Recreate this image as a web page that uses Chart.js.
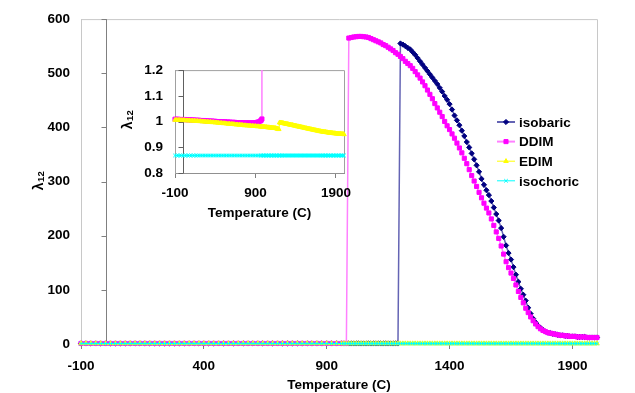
<!DOCTYPE html>
<html>
<head>
<meta charset="utf-8">
<script src="https://cdn.jsdelivr.net/npm/chart.js@4.4.1/dist/chart.umd.min.js"></script>
<style>
  html, body { margin: 0; padding: 0; background: #fff; }
  #wrap { position: relative; width: 635px; height: 393px; }
  #main { position: absolute; left: 0; top: 0; width: 635px; height: 393px; }
  #inset { position: absolute; left: 105px; top: 50px; width: 255px; height: 175px; }
</style>
</head>
<body>
<div id="wrap">
  <canvas id="main" width="635" height="393"></canvas>
  <canvas id="inset" width="255" height="175"></canvas>
</div>
<script>
// temperature grid (C): coarse on the flat part, finer where the curves move
const temps = [
  -100, -80, -60, -40, -20, 0, 20, 40, 60, 80,
  100, 120, 140, 160, 180, 200, 220, 240, 260, 280,
  300, 320, 340, 360, 380, 400, 420, 440, 460, 480,
  500, 520, 540, 560, 580, 600, 620, 640, 660, 680,
  700, 720, 740, 760, 780, 800, 820, 840, 860, 880,
  900, 920, 940, 960,
  970, 980, 990, 1000, 1010, 1020, 1030, 1040, 1050, 1060,
  1070, 1080, 1090, 1100, 1110, 1120, 1130, 1140, 1150, 1160,
  1170, 1180, 1190, 1200, 1210, 1220, 1230, 1240, 1250, 1260,
  1270, 1280, 1290, 1300, 1310, 1320, 1330, 1340, 1350, 1360,
  1370, 1380, 1390, 1400, 1410, 1420, 1430, 1440, 1450, 1460,
  1470, 1480, 1490, 1500, 1510, 1520, 1530, 1540, 1550, 1560,
  1570, 1580, 1590, 1600, 1610, 1620, 1630, 1640, 1650, 1660,
  1670, 1680, 1690, 1700, 1710, 1720, 1730, 1740, 1750, 1760,
  1770, 1780, 1790, 1800, 1810, 1820, 1830, 1840, 1850, 1860,
  1870, 1880, 1890, 1900, 1910, 1920, 1930, 1940, 1950, 1960,
  1970, 1980, 1990, 2000
];

const isobaric = [
  1.008, 1.008, 1.008, 1.007, 1.007, 1.007, 1.007, 1.006, 1.006, 1.006,
  1.005, 1.005, 1.005, 1.004, 1.004, 1.004, 1.003, 1.003, 1.003, 1.002,
  1.002, 1.001, 1.001, 1.001, 1.000, 1.000, 0.999, 0.999, 0.999, 0.998,
  0.998, 0.998, 0.997, 0.997, 0.997, 0.996, 0.996, 0.996, 0.995, 0.995,
  0.995, 0.994, 0.994, 0.994, 0.993, 0.993, 0.993, 0.992, 0.992, 0.992,
  0.991, 0.991, 0.991, 0.990,
  0.990, 0.990, 0.990, 0.989, 0.989, 0.989, 0.989, 0.988, 0.988, 0.988,
  0.988, 0.987, 0.987, 0.987, 0.987, 0.986, 0.986, 0.986, 0.986, 0.985,
  0.985, 0.985, 0.985, 555, 553, 550, 547, 544, 539, 534,
  528, 522, 516, 510, 504, 498, 492, 486, 480, 473,
  466, 458, 451, 443, 433, 422, 413, 404, 394, 384,
  373, 363, 352, 341, 330, 318, 305, 294, 284, 275,
  264, 252, 240, 228, 214, 198, 182, 168, 156, 142,
  128, 115, 102, 91, 80, 67, 56, 47, 40, 34,
  30, 26, 23, 21, 20, 19, 18, 17, 16, 16,
  15, 15, 14, 14, 14, 13, 13, 13, 13, 12,
  12, 12, 12, 12
];

const ddim = [
  1.009, 1.009, 1.009, 1.008, 1.008, 1.008, 1.008, 1.007, 1.007, 1.007,
  1.006, 1.006, 1.006, 1.005, 1.005, 1.005, 1.004, 1.004, 1.004, 1.003,
  1.003, 1.002, 1.002, 1.002, 1.001, 1.001, 1.000, 1.000, 1.000, 0.999,
  0.999, 0.999, 0.998, 0.998, 0.998, 0.997, 0.997, 0.997, 0.996, 0.996,
  0.996, 0.996, 0.995, 0.995, 0.995, 0.995, 0.995, 0.995, 0.995, 0.995,
  0.996, 0.997, 0.999, 1.002,
  1.005, 1.010, 565, 566, 567, 567.5, 568, 568, 567.5, 567,
  566, 564, 562, 560, 558, 556, 553, 551, 548, 545,
  542, 538, 535, 531, 527, 522, 518, 514, 509, 503,
  497, 491, 484, 477, 469, 461, 453, 444, 436, 428,
  420, 411, 403, 396, 388, 380, 371, 362, 353, 343,
  333, 322, 311, 301, 291, 280, 270, 260, 251, 242,
  231, 219, 207, 195, 181, 166, 152, 141, 131, 121,
  109, 97, 86, 76, 66, 58, 50, 43, 37, 32,
  28, 25, 23, 21, 20, 19, 18, 17, 16, 16,
  15, 15, 14, 14, 14, 13, 13, 13, 13, 12,
  12, 12, 12, 12
];

const edim = [
  1.006, 1.006, 1.006, 1.006, 1.005, 1.005, 1.005, 1.004, 1.004, 1.004,
  1.003, 1.003, 1.003, 1.002, 1.002, 1.001, 1.001, 1.000, 1.000, 0.999,
  0.999, 0.998, 0.998, 0.997, 0.997, 0.996, 0.996, 0.995, 0.994, 0.994,
  0.993, 0.993, 0.992, 0.991, 0.991, 0.990, 0.990, 0.989, 0.988, 0.988,
  0.987, 0.987, 0.986, 0.985, 0.985, 0.984, 0.984, 0.983, 0.983, 0.982,
  0.982, 0.981, 0.981, 0.980,
  0.980, 0.980, 0.979, 0.979, 0.979, 0.978, 0.978, 0.978, 0.977, 0.977,
  0.977, 0.976, 0.976, 0.976, 0.975, 0.975, 0.975, 0.974, 0.974, 0.973,
  0.972, 0.971, 0.970, 0.996, 0.995, 0.995, 0.994, 0.994, 0.993, 0.992,
  0.992, 0.991, 0.990, 0.990, 0.989, 0.988, 0.988, 0.987, 0.986, 0.986,
  0.985, 0.984, 0.984, 0.983, 0.982, 0.981, 0.981, 0.980, 0.979, 0.979,
  0.978, 0.977, 0.977, 0.976, 0.975, 0.974, 0.974, 0.973, 0.972, 0.972,
  0.971, 0.970, 0.970, 0.969, 0.968, 0.968, 0.967, 0.966, 0.966, 0.965,
  0.964, 0.964, 0.963, 0.962, 0.962, 0.961, 0.961, 0.960, 0.960, 0.959,
  0.959, 0.958, 0.958, 0.957, 0.957, 0.956, 0.956, 0.956, 0.955, 0.955,
  0.954, 0.954, 0.954, 0.953, 0.953, 0.953, 0.952, 0.952, 0.952, 0.952,
  0.951, 0.951, 0.951, 0.950
];

const isochoric = [
  0.868, 0.868, 0.868, 0.868, 0.868, 0.868, 0.868, 0.868, 0.868, 0.868,
  0.868, 0.868, 0.868, 0.868, 0.868, 0.868, 0.868, 0.868, 0.868, 0.868,
  0.868, 0.868, 0.868, 0.868, 0.868, 0.868, 0.868, 0.868, 0.868, 0.868,
  0.868, 0.868, 0.868, 0.868, 0.868, 0.868, 0.868, 0.868, 0.868, 0.868,
  0.868, 0.868, 0.868, 0.868, 0.868, 0.868, 0.868, 0.868, 0.868, 0.868,
  0.868, 0.868, 0.868, 0.868,
  0.868, 0.868, 0.868, 0.868, 0.868, 0.868, 0.868, 0.868, 0.868, 0.868,
  0.868, 0.868, 0.868, 0.868, 0.868, 0.868, 0.868, 0.868, 0.868, 0.868,
  0.868, 0.868, 0.868, 0.868, 0.868, 0.868, 0.868, 0.868, 0.868, 0.868,
  0.868, 0.868, 0.868, 0.868, 0.868, 0.868, 0.868, 0.868, 0.868, 0.868,
  0.868, 0.868, 0.868, 0.868, 0.868, 0.868, 0.868, 0.868, 0.868, 0.868,
  0.868, 0.868, 0.868, 0.868, 0.868, 0.868, 0.868, 0.868, 0.868, 0.868,
  0.868, 0.868, 0.868, 0.868, 0.868, 0.868, 0.868, 0.868, 0.868, 0.868,
  0.868, 0.868, 0.868, 0.868, 0.868, 0.868, 0.868, 0.868, 0.868, 0.868,
  0.868, 0.868, 0.868, 0.868, 0.868, 0.868, 0.868, 0.868, 0.868, 0.868,
  0.868, 0.868, 0.868, 0.868, 0.868, 0.868, 0.868, 0.868, 0.868, 0.868,
  0.868, 0.868, 0.868, 0.868
];

const seriesNames = ['isobaric', 'DDIM', 'EDIM', 'isochoric'];
const xTicksMain = [-100, 400, 900, 1400, 1900];
const yTicksMain = [0, 100, 200, 300, 400, 500, 600];
const xTicksInset = [-100, 900, 1900];
const yTicksInset = [0.8, 0.9, 1, 1.1, 1.2];

const FAMILY = '"Liberation Sans", Arial, sans-serif';
const boldFont = {family: FAMILY, size: 13.5, weight: 'bold', lineHeight: 1.2};

// look of each series (Excel style: light line, dark marker)
const looks = [
  {line: '#6464b4', fill: '#000080', style: 'rectRot', r: 2.6, w: 1.5},
  {line: '#ff80ff', fill: '#ff00ff', style: 'rect', r: 2.9, w: 1.5},
  {line: '#ffff00', fill: '#ffff00', style: 'triangle', r: 2.6, w: 1},
  {line: '#00ffff', fill: '#00ffff', style: 'crossRot', r: 2.5, w: 1}
];

function series(i, values, clip) {
  const s = looks[i];
  return {
    label: seriesNames[i],
    data: temps.map((t, k) => ({x: t, y: values[k]})),
    borderColor: s.line,
    borderWidth: s.w,
    pointStyle: s.style,
    pointRadius: s.r,
    pointBackgroundColor: s.fill,
    pointBorderColor: s.fill,
    pointBorderWidth: 1,
    tension: 0,
    order: 4 - i,
    clip: clip
  };
}

function drawLambda(ctx, cx, cy) {
  ctx.save();
  ctx.translate(cx, cy);
  ctx.rotate(-Math.PI / 2);
  ctx.fillStyle = '#000';
  ctx.textBaseline = 'alphabetic';
  const big = 'bold 14px ' + FAMILY;
  const small = 'bold 9.5px ' + FAMILY;
  ctx.font = big;
  const w1 = ctx.measureText('λ').width;
  ctx.font = small;
  const w2 = ctx.measureText('12').width;
  const x0 = -(w1 + w2) / 2;
  ctx.font = big;
  ctx.fillText('λ', x0, 5);
  ctx.font = small;
  ctx.fillText('12', x0 + w1 + 0.5, 6);
  ctx.restore();
}

// frame, y axis crossing at T = 0, axis title, optional legend
function decoPlugin(cfg) {
  return {
    id: 'deco',
    beforeDatasetsDraw(chart) {
      const {ctx, chartArea: a, scales: {x, y}} = chart;
      ctx.save();
      ctx.lineWidth = 1;
      ctx.strokeStyle = cfg.frame;
      ctx.beginPath();
      ctx.moveTo(a.left, a.top + 0.5);
      ctx.lineTo(a.right + 0.5, a.top + 0.5);
      ctx.lineTo(a.right + 0.5, a.bottom);
      ctx.stroke();
      const x0 = Math.round(x.getPixelForValue(0)) + 0.5;
      ctx.strokeStyle = cfg.axis;
      ctx.beginPath();
      ctx.moveTo(x0, a.top);
      ctx.lineTo(x0, a.bottom);
      y.ticks.forEach(t => {
        const py = Math.round(y.getPixelForValue(t.value)) + 0.5;
        ctx.moveTo(x0 - 5, py);
        ctx.lineTo(x0, py);
      });
      ctx.stroke();
      ctx.restore();
    },
    afterDraw(chart) {
      const ctx = chart.ctx;
      drawLambda(ctx, cfg.titleX, cfg.titleY);
      if (!cfg.legend) return;
      ctx.save();
      seriesNames.forEach((name, i) => {
        const s = looks[i];
        const ly = cfg.legend.y + i * cfg.legend.gap;
        const lx = cfg.legend.x;
        ctx.strokeStyle = s.line;
        ctx.lineWidth = i < 2 ? 2 : 1;
        ctx.beginPath();
        ctx.moveTo(lx, ly);
        ctx.lineTo(lx + 18, ly);
        ctx.stroke();
        ctx.fillStyle = s.fill;
        ctx.strokeStyle = s.fill;
        ctx.lineWidth = 1;
        Chart.helpers.drawPoint(ctx, {pointStyle: s.style, radius: s.r, rotation: 0, borderWidth: 1}, lx + 9, ly);
        ctx.fillStyle = '#000';
        ctx.font = 'bold 13.5px ' + FAMILY;
        ctx.textBaseline = 'middle';
        ctx.textAlign = 'left';
        ctx.fillText(name, lx + 22, ly + 1);
      });
      ctx.restore();
    }
  };
}

const mainChart = new Chart(document.getElementById('main'), {
  type: 'line',
  data: {
    datasets: [
      series(0, isobaric, false),
      series(1, ddim, false),
      series(2, edim, false),
      series(3, isochoric, false)
    ]
  },
  options: {
    responsive: false,
    animation: false,
    events: [],
    layout: {padding: {top: 14, right: 38, left: 0, bottom: 0}},
    scales: {
      x: {
        type: 'linear', min: -100, max: 2000,
        afterBuildTicks: s => { s.ticks = xTicksMain.map(v => ({value: v})); },
        afterFit: s => { s.height = 49; },
        ticks: {color: '#000', padding: 9, maxRotation: 0, autoSkip: false, font: boldFont,
                callback: v => String(v)},
        grid: {drawOnChartArea: false, drawTicks: true, tickLength: 5, color: '#808080'},
        border: {color: '#808080'},
        title: {display: true, text: 'Temperature (C)', color: '#000', font: boldFont,
                padding: {top: 0, bottom: 0}}
      },
      y: {
        type: 'linear', min: 0, max: 600,
        afterBuildTicks: s => { s.ticks = yTicksMain.map(v => ({value: v})); },
        afterFit: s => { s.width = 81; },
        ticks: {color: '#000', padding: 11, font: boldFont, callback: v => String(v)},
        grid: {drawOnChartArea: false, drawTicks: false},
        border: {color: '#c8c8c8'}
      }
    },
    plugins: {
      legend: {display: false},
      tooltip: {enabled: false}
    }
  },
  plugins: [decoPlugin({
    frame: '#c8c8c8', axis: '#808080', titleX: 38, titleY: 181,
    legend: {x: 497, y: 122, gap: 19.6}
  })]
});

const insetClip = {left: 4, top: 0, right: 4, bottom: 4};
const insetChart = new Chart(document.getElementById('inset'), {
  type: 'line',
  data: {
    datasets: [
      series(1, ddim, insetClip),
      series(2, edim, insetClip),
      series(3, isochoric, insetClip)
    ]
  },
  options: {
    responsive: false,
    animation: false,
    events: [],
    layout: {padding: {top: 18, right: 16, left: 0, bottom: 0}},
    scales: {
      x: {
        type: 'linear', min: -100, max: 2000,
        afterBuildTicks: s => { s.ticks = xTicksInset.map(v => ({value: v})); },
        afterFit: s => { s.height = 52; },
        ticks: {color: '#000', padding: 7, maxRotation: 0, autoSkip: false, font: boldFont,
                callback: v => String(v)},
        grid: {drawOnChartArea: false, drawTicks: true, tickLength: 5, color: '#808080'},
        border: {color: '#909090'},
        title: {display: true, text: 'Temperature (C)', color: '#000', font: boldFont,
                padding: {top: 0, bottom: 4}}
      },
      y: {
        type: 'linear', min: 0.8, max: 1.2,
        afterBuildTicks: s => { s.ticks = yTicksInset.map(v => ({value: v})); },
        afterFit: s => { s.width = 70; },
        ticks: {color: '#000', padding: 12, font: boldFont,
                callback: v => String(Math.round(v * 10) / 10)},
        grid: {drawOnChartArea: false, drawTicks: false},
        border: {color: '#a0a0a0'}
      }
    },
    plugins: {
      legend: {display: false},
      tooltip: {enabled: false}
    }
  },
  plugins: [decoPlugin({frame: '#a0a0a0', axis: '#606060', titleX: 22, titleY: 70})]
});
</script>
</body>
</html>
